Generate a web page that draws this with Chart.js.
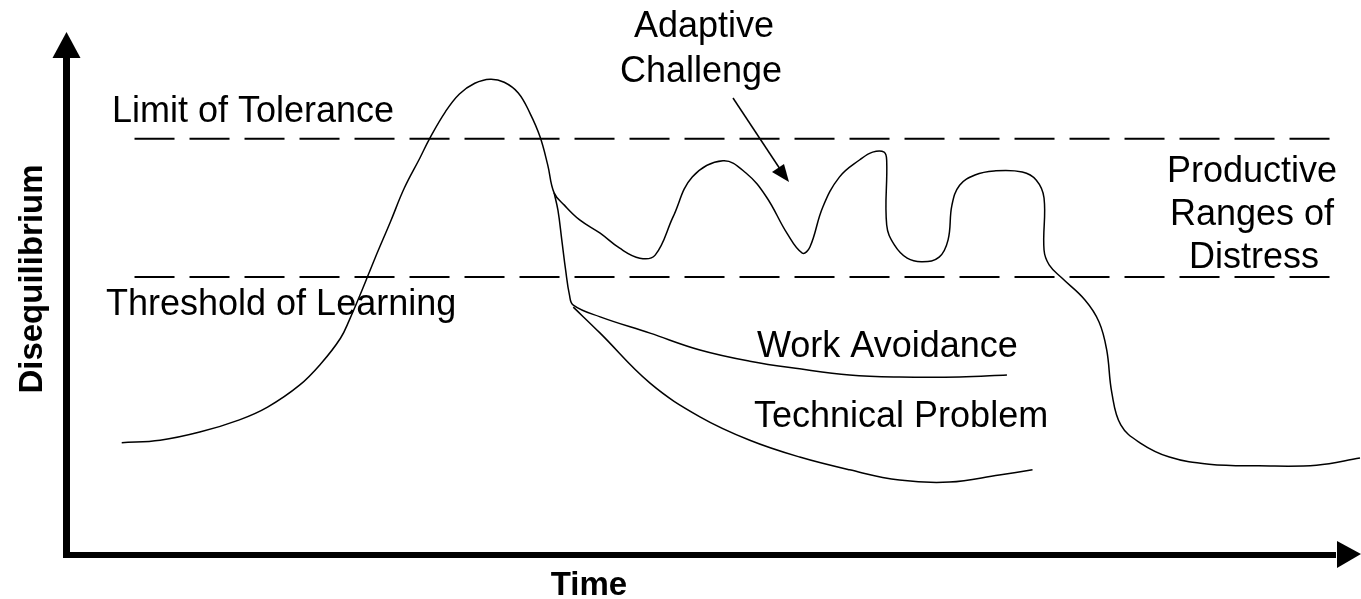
<!DOCTYPE html>
<html>
<head>
<meta charset="utf-8">
<script src="https://cdn.jsdelivr.net/npm/chart.js@4"></script>
<style>
  body { margin: 0; background: #fff; }
  #wrap { width: 1361px; height: 599px; position: relative; }
</style>
</head>
<body>
<div id="wrap"><canvas id="chart"></canvas></div>
<script>
// time (0-101) and disequilibrium (0-100)
const mainTime = [4.2, 7.2, 10.3, 13.4, 15.6, 18.1, 19.8, 21.3, 22.0, 23.0, 24.0, 25.2, 26.3, 27.5, 28.3, 29.5, 30.6, 31.8, 33.0, 34.1, 35.2, 36.1, 36.9, 37.5, 38.0,
  38.8, 40.0, 41.6, 43.1, 44.7, 45.9, 47.3, 48.8, 51.2, 53.0, 54.6, 56.2, 57.4, 58.0, 59.0, 60.3, 61.9, 62.9, 63.8, 64.0, 64.0,
  64.6, 65.6, 66.8, 68.1, 68.8, 69.1, 69.7, 70.9, 72.4, 74.6, 75.7, 76.3, 76.3, 76.7, 77.7, 79.5, 80.6, 81.2, 81.6, 82.3, 83.8, 86.1, 89.2, 93.1, 97.6, 101.0];
const mainDiseq = [22.0, 22.5, 24.1, 26.5, 29.0, 33.3, 37.6, 42.5, 46.1, 52.0, 58.2, 65.3, 72.0, 77.8, 81.8, 86.9, 90.4, 92.5, 93.3, 92.7, 90.6, 86.7, 82.0, 76.5, 71.0,
  68.6, 65.7, 63.1, 60.2, 58.2, 58.8, 66.3, 74.1, 77.3, 74.9, 70.2, 63.1, 59.2, 60.4, 68.2, 74.1, 77.5, 79.0, 79.0, 77.3, 64.7,
  60.8, 58.2, 57.5, 58.4, 61.8, 68.6, 72.5, 74.5, 75.3, 75.1, 73.5, 70.0, 59.8, 56.9, 54.3, 50.0, 45.7, 40.2, 31.8, 25.5, 22.0, 19.2, 17.8, 17.5, 17.6, 19.0];

const avoidTime = [38.0, 38.3, 38.6, 38.9, 39.2, 39.5, 41.6, 45.5, 49.4, 53.3, 57.2, 61.1, 65.0, 69.7, 73.4];
const avoidDiseq = [71.0, 67.6, 61.8, 55.9, 51.0, 49.0, 46.7, 43.5, 40.2, 38.0, 36.5, 35.3, 34.9, 34.9, 35.3];

const techTime = [39.5, 41.6, 45.5, 49.4, 53.3, 57.2, 61.1, 65.0, 68.9, 72.8, 75.4];
const techDiseq = [48.6, 43.5, 33.7, 27.1, 22.5, 19.2, 16.7, 14.7, 14.3, 15.7, 16.7];

const limitTolerance = 81.6;
const thresholdLearning = 54.5;
const guideStart = 5.2;
const guideEnd = 99.4;

const axisTitles = ['Time', 'Disequilibrium'];
const labels = ['Limit of Tolerance', 'Threshold of Learning', 'Adaptive', 'Challenge',
  'Productive', 'Ranges of', 'Distress', 'Work Avoidance', 'Technical Problem'];

const zip = (xs, ys) => xs.map((x, i) => ({x: x, y: ys[i]}));

//axes with arrow heads + the text
const drawing = {
  id: 'drawing',
  beforeDatasetsDraw(chart) {
    const ctx = chart.ctx;
    const a = chart.chartArea;
    const x0 = a.left - 1;
    const y0 = a.bottom;
    ctx.save();
    ctx.fillStyle = '#000';
    // y axis
    ctx.fillRect(x0 - 4, 50, 7, y0 - 50 + 3);
    ctx.beginPath();
    ctx.moveTo(x0 - 0.5, 32);
    ctx.lineTo(x0 - 14.5, 58);
    ctx.lineTo(x0 + 13.5, 58);
    ctx.closePath();
    ctx.fill();
    // x axis
    ctx.fillRect(x0 - 4, y0 - 3, 1340 - x0, 6);
    ctx.beginPath();
    ctx.moveTo(1361, y0 - 1);
    ctx.lineTo(1337, y0 - 14);
    ctx.lineTo(1337, y0 + 13);
    ctx.closePath();
    ctx.fill();
    ctx.restore();
  },
  afterDraw(chart) {
    const ctx = chart.ctx;
    ctx.save();
    ctx.fillStyle = '#000';
    ctx.textBaseline = 'alphabetic';

    ctx.font = 'bold 33px "Liberation Sans", Arial, sans-serif';
    ctx.textAlign = 'center';
    ctx.fillText(axisTitles[0], 589, 595);
    ctx.save();
    ctx.translate(42, 279);
    ctx.rotate(-Math.PI / 2);
    ctx.fillText(axisTitles[1], 0, 0);
    ctx.restore();

    ctx.font = '36px "Liberation Sans", Arial, sans-serif';
    ctx.textAlign = 'left';
    ctx.fillText(labels[0], 112, 122);
    ctx.fillText(labels[1], 106, 315);
    ctx.fillText(labels[7], 757, 357);
    ctx.fillText(labels[8], 754, 427);
    ctx.textAlign = 'center';
    ctx.fillText(labels[2], 704, 37);
    ctx.fillText(labels[3], 701, 82);
    ctx.fillText(labels[4], 1252, 182);
    ctx.fillText(labels[5], 1252, 225);
    ctx.fillText(labels[6], 1254, 268);

    // pointer for "Adaptive Challenge"
    ctx.strokeStyle = '#000';
    ctx.lineWidth = 1.5;
    ctx.beginPath();
    ctx.moveTo(733, 98);
    ctx.lineTo(782, 172);
    ctx.stroke();
    ctx.beginPath();
    ctx.moveTo(789, 182);
    ctx.lineTo(772, 172);
    ctx.lineTo(784, 164);
    ctx.closePath();
    ctx.fill();
    ctx.restore();
  }
};

const curve = (data) => ({
  data: data,
  borderColor: '#000',
  borderWidth: 1.5,
  pointRadius: 0,
  tension: 0.4,
  fill: false,
  clip: false
});
const guide = (level) => ({
  data: [{x: guideStart, y: level}, {x: guideEnd, y: level}],
  borderColor: '#000',
  borderWidth: 2,
  borderDash: [40, 15],
  pointRadius: 0,
  tension: 0,
  fill: false,
  clip: false
});

new Chart(document.getElementById('chart'), {
  type: 'line',
  data: {
    datasets: [
      guide(limitTolerance),
      guide(thresholdLearning),
      curve(zip(mainTime, mainDiseq)),
      curve(zip(avoidTime, avoidDiseq)),
      curve(zip(techTime, techDiseq))
    ]
  },
  options: {
    responsive: true,
    maintainAspectRatio: false,
    animation: false,
    layout: {
      padding: { left: 68, right: 1, top: 45, bottom: 44 }
    },
    scales: {
      x: { type: 'linear', min: 0, max: 101, display: false },
      y: { min: 0, max: 100, display: false }
    },
    plugins: {
      legend: { display: false },
      tooltip: { enabled: false }
    }
  },
  plugins: [drawing]
});
</script>
</body>
</html>
